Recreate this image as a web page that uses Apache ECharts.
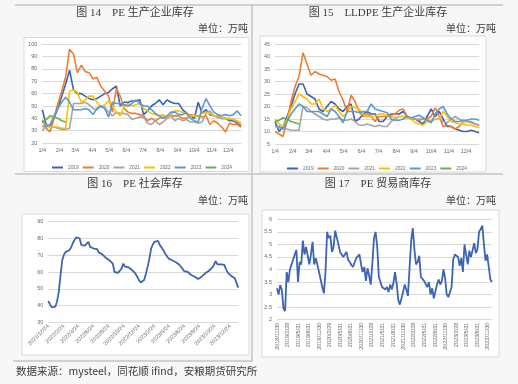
<!DOCTYPE html>
<html><head><meta charset="utf-8">
<script src="https://cdn.jsdelivr.net/npm/echarts@6/dist/echarts.min.js"></script>
<style>html,body{margin:0;padding:0;background:#f7f7f7}#c{width:518px;height:384px}</style>
</head><body><div id="c"></div>
<script>
// ---------- data ----------
const yearNames = ['2019','2020','2021','2022','2023','2024'];
const yearColors = ['#3b62b8','#ED7D31','#A5A5A5','#FFC000','#5B9BD5','#70AD47'];

// Fig 14 PE producer inventory (weekly from 1/4)
const pe2019 = [47,35,33,40,48,58,68,79,63,60,60,58,56,55,56,58,60,61,64,66,50,53,53,54,54,55,43,46,50,52,55,51,55,53,52,52,47,44,42,40,53,44,47,43,42,41,40,40,38,38,36,34];
const pe2020 = [34,32,29,40,52,62,74,96,92,77,83,78,77,72,73,66,62,58,45,64,58,48,45,44,44,43,42,38,40,38,40,41,40,42,42,42,40,40,43,42,42,41,42,35,38,36,33,29,36,35,35,33];
const pe2021 = [30,34,34,33,32,31,31,32,52,52,52,53,51,48,47,50,49,45,42,45,44,44,43,39,40,41,41,36,35,38,35,37,40,42,38,40,38,39,37,37,36,37,44,46,42,41,40,40,39,39,37,35];
const pe2022 = [39,34,33,33,33,32,32,62,63,61,53,55,58,58,53,49,51,54,50,45,42,50,52,50,51,52,48,46,44,43,42,43,41,43,46,46,45,43,42,42,41,44,45,44,42,42,41,40,40,39,38,36];
const pe2023 = [38,33,35,42,48,53,57,53,47,47,47,48,47,43,48,50,48,41,53,52,52,51,50,52,55,52,50,50,47,44,42,40,42,45,45,43,43,45,40,38,37,48,56,50,45,43,42,43,42,43,46,42];
const pe2024 = [37,39,42,41,40,38,37];

// Fig 15 LLDPE producer inventory (weekly from 1/4)
const ll2019 = [14,10,12,16,20,25,29,29,25,24,23,19,18,20,22,21,19,18,20,21,14,15,17,18,17,17,14,14,16,17,17,17,18,16,15,15,14,13,16,19,16,18,15,12,12,11,10.5,10,10,10.5,10,9.5];
const ll2020 = [10,9,8,14,22,28,32,41.5,37,32.5,34,33,32.5,32,30.5,31,26,22.5,18,24.5,22,18,16,17,16,14,16,16,16,16.5,17,18.5,19,16,15,15,14.5,15,15,16,19.5,16,12,12.5,12,11,12,14,14,13.5,13,12.5];
const ll2021 = [12,11.5,11,11,10.5,10.5,10.5,20,19.5,18,17,16,15,14.5,15,15,15.5,14.5,14.5,15,14,12.5,12.5,13,12.5,12,12.5,12,12,14,15,16,16,15.5,15.5,15,15,15,14,14,15,15,14,13.5,15,16,15,14,14,14,13,12.5];
const ll2022 = [15,13,12,15,19,22,25,24,23,21,21,23,19,18,19,20.5,18,16,17.5,20,19.5,19,17,16,16,16,17,17,16.5,16,15.5,16,16,15.5,15,13.5,13,12.5,14,14.5,15,15,18,16,14,13.5,13,13,12.5,12.5,12,11.5];
const ll2023 = [12.5,12,11,14,17,19,21,20,18,18,18,18,17,16,19,18,16,13.5,18,18,18,17.5,18,18,21,19,18.5,18,17.5,15,14.5,14.5,15,16,15.5,16,16.5,15.5,14.5,13.5,17,19,20,17,15,14,14,14.5,14.5,15,15,14.5];
const ll2024 = [14,14.5,15.5,15,14,13.5,13];

// Fig 16 PE social inventory (weekly from 2021/12/24)
const social = [42.7,40.7,38.9,38.7,39.3,42.3,48,58,67,70.5,72,73,73,74.5,77,79,80.6,81,80,76,75.5,75.7,76,78,75,74.5,74,74.5,73.7,71.7,71,70.5,69.5,68.5,68,67,66,65,60,59.5,59.5,60,62,65,63.2,63.2,62.8,62.2,61.2,60.2,59,57.2,55.2,53.8,53,55.2,59,63.2,68,74,76.5,78,79,78.5,76,74.7,73,71,69.5,68,68,67,66.5,66,65.7,64.5,63.5,62,60.5,60.2,60,59.4,58.2,57.6,57.2,56.6,55.8,56.2,57.2,58.2,59.2,60.2,60.6,61.2,62.6,64.2,66.5,64.5,64.2,64.6,65.2,64.2,61.6,59.6,58.6,57.6,57.2,56.2,55.2,50.6];

// Fig 17 PE trader inventory (every 2 weeks from 2018/11/30)
const trader = [3.25,3.0,3.38,3.18,2.45,2.35,3.9,3.5,4.0,4.2,4.15,4.6,4.78,3.5,4.3,4.2,5.15,4.6,4.9,4.9,4.2,4.6,5.1,4.2,4.45,4.5,3.9,3.6,3.3,3.05,3.9,5.5,5.25,5.35,4.7,4.9,5.55,5.55,5.0,4.7,4.6,4.5,4.5,4.7,4.38,4.3,4.18,4.1,4.15,4.45,4.5,4.6,4.2,3.9,4.1,3.55,4.05,3.75,3.4,4.25,5.25,5.5,4.9,3.7,3.65,3.3,3.3,3.2,3.3,3.1,3.4,3.2,3.45,3.9,3.45,2.8,2.6,2.85,3.1,3.4,3.2,2.95,2.9,5.15,5.65,4.8,4.2,4.3,4.55,3.7,3.75,3.55,3.6,3.3,3.5,3.0,3.25,2.85,2.8,3.4,3.6,3.4,3.55,4.0,3.65,3.0,2.9,2.88,3.3,4.4,4.6,4.55,4.5,4.15,4.45,3.9,5.0,4.6,4.2,4.75,4.5,4.5,5.05,4.65,4.8,5.5,5.6,5.75,5.0,4.35,4.6,4.1,3.6,3.5];

// ---------- axis categories (daily dates) ----------
function dayCats(y, m, d, n, withYear) {
  const out = [];
  for (let i = 0; i < n; i++) {
    const t = new Date(Date.UTC(y, m - 1, d + i));
    const s = (t.getUTCMonth() + 1) + '/' + t.getUTCDate();
    out.push(withYear ? t.getUTCFullYear() + '/' + s : s);
  }
  return out;
}
const catYear = dayCats(2023, 1, 4, 358, false);
const catSocial = dayCats(2021, 12, 24, 764, true);
const catTrader = dayCats(2018, 11, 30, 1863, true);

const toPts = (arr, step) => arr.map((v, i) => [i * step, v]);

const lblYear = (i, v) => v.split('/')[1] === '4';
const lblSocial = (i, v) => { const p = v.split('/'); return p[2] === '24' && [12,2,4,6,8,10].includes(+p[1]); };
const lblTrader = (i, v) => {
  const p = v.split('/').map(Number);
  const nxt = new Date(Date.UTC(p[0], p[1] - 1, p[2] + 1));
  return [2,5,8,11].includes(p[1]) && nxt.getUTCDate() === 1;
};

const tickFont = { fontSize: 5.5, color: '#6a6a6a', fontFamily: 'Liberation Sans, Arial, sans-serif' };
const split = { show: true, lineStyle: { color: '#d9d9d9', width: 1 } };

function xCat(gi, data, intervalFn, extra) {
  return Object.assign({
    type: 'category', gridIndex: gi, data: data, boundaryGap: false,
    axisLine: { show: false }, axisTick: { show: false }, splitLine: { show: false },
    axisLabel: Object.assign({ interval: intervalFn, margin: 4 }, tickFont)
  }, extra || {});
}
function yVal(gi, min, max, interval) {
  return {
    type: 'value', gridIndex: gi, min: min, max: max, interval: interval,
    axisLine: { show: false }, axisTick: { show: false }, splitLine: split,
    axisLabel: Object.assign({ margin: 5 }, tickFont)
  };
}

const peSets = [pe2019, pe2020, pe2021, pe2022, pe2023, pe2024];
const llSets = [ll2019, ll2020, ll2021, ll2022, ll2023, ll2024];
const series = [];
peSets.forEach((arr, k) => series.push({
  type: 'line', name: yearNames[k], xAxisIndex: 0, yAxisIndex: 0, data: toPts(arr, 7),
  showSymbol: false, color: yearColors[k], lineStyle: { width: 1.6, color: yearColors[k] }, z: 2 + k
}));
llSets.forEach((arr, k) => series.push({
  type: 'line', name: yearNames[k], xAxisIndex: 1, yAxisIndex: 1, data: toPts(arr, 7),
  showSymbol: false, color: yearColors[k], lineStyle: { width: 1.6, color: yearColors[k] }, z: 2 + k
}));
series.push({ type: 'line', name: '社会库存', xAxisIndex: 2, yAxisIndex: 2, data: toPts(social, 7),
  showSymbol: false, lineStyle: { width: 1.8, color: '#3d64b5' }, color: '#3d64b5' });
series.push({ type: 'line', name: '贸易商库存', xAxisIndex: 3, yAxisIndex: 3, data: toPts(trader, 14),
  showSymbol: false, lineStyle: { width: 1.8, color: '#3d64b5' }, color: '#3d64b5' });

const titleFont = "11px 'Liberation Serif', 'Noto Sans CJK SC', serif";
const unitFont = "10px 'Noto Sans CJK SC', sans-serif";
function txt(s, x, y, font, align) {
  return { type: 'text', x: x, y: y, z: 10, style: { text: s, font: font, fill: '#3a3a3a', textAlign: align, textVerticalAlign: 'middle' } };
}
function box(x, y, w, h) {
  return { type: 'rect', z: -10, shape: { x: x, y: y, width: w, height: h }, style: { fill: '#ffffff', stroke: '#dadada', lineWidth: 1 } };
}
function ln(x1, y1, x2, y2) {
  return { type: 'line', z: -5, shape: { x1: x1, y1: y1, x2: x2, y2: y2 }, style: { stroke: '#c4c4c4', lineWidth: 1.5 } };
}

const legendBase = { data: yearNames, icon: 'rect', itemWidth: 11, itemHeight: 2, itemGap: 4,
  textStyle: { fontSize: 4.8, color: '#6a6a6a', fontFamily: 'Liberation Sans, Arial, sans-serif' }, selectedMode: false };

const option = {
  backgroundColor: '#f7f7f7',
  animation: false,
  grid: [
    { left: 42.3, top: 44.3, width: 198.8, height: 98.7, outerBoundsMode: 'none' },
    { left: 275, top: 44, width: 204.2, height: 100, outerBoundsMode: 'none' },
    { left: 48.3, top: 221.7, width: 190, height: 100.6, outerBoundsMode: 'none' },
    { left: 277, top: 219.3, width: 215, height: 100.4, outerBoundsMode: 'none' }
  ],
  xAxis: [
    xCat(0, catYear, lblYear),
    xCat(1, catYear, lblYear),
    xCat(2, catSocial, lblSocial, { axisLabel: Object.assign({ interval: lblSocial, rotate: 45, margin: 3 }, tickFont) }),
    xCat(3, catTrader, lblTrader, { axisLabel: Object.assign({ interval: lblTrader, rotate: 90, margin: 3 }, tickFont) })
  ],
  yAxis: [ yVal(0, 20, 100, 10), yVal(1, 5, 45, 5), yVal(2, 30, 90, 10), yVal(3, 2, 6, 0.5) ],
  legend: [
    Object.assign({ left: 47, top: 160 }, legendBase),
    Object.assign({ left: 282, top: 161 }, legendBase)
  ],
  series: series,
  graphic: [
    ln(15, 5, 503, 5), ln(15, 174, 503, 174), ln(13, 361, 253, 361), ln(252, 5, 252, 361),
    box(24, 37.5, 225, 134), box(260, 36, 226, 136), box(22, 214, 227, 141), box(262, 210, 237, 147),
    txt('图 14　PE 生产企业库存', 135, 12.7, titleFont, 'center'),
    txt('单位：万吨', 248, 28, unitFont, 'right'),
    txt('图 15　LLDPE 生产企业库存', 378, 12.7, titleFont, 'center'),
    txt('单位：万吨', 496, 28.3, unitFont, 'right'),
    txt('图 16　PE 社会库存', 135, 184.3, titleFont, 'center'),
    txt('单位：万吨', 248, 200, unitFont, 'right'),
    txt('图 17　PE 贸易商库存', 378, 184.3, titleFont, 'center'),
    txt('单位：万吨', 496, 200, unitFont, 'right'),
    txt('数据来源：mysteel，同花顺 ifind，安粮期货研究所', 16, 370.7, "10.5px 'Noto Sans CJK SC', sans-serif", 'left')
  ]
};
const chart = echarts.init(document.getElementById('c'), null, { renderer: 'canvas' });
chart.setOption(option);
</script>
</body></html>
